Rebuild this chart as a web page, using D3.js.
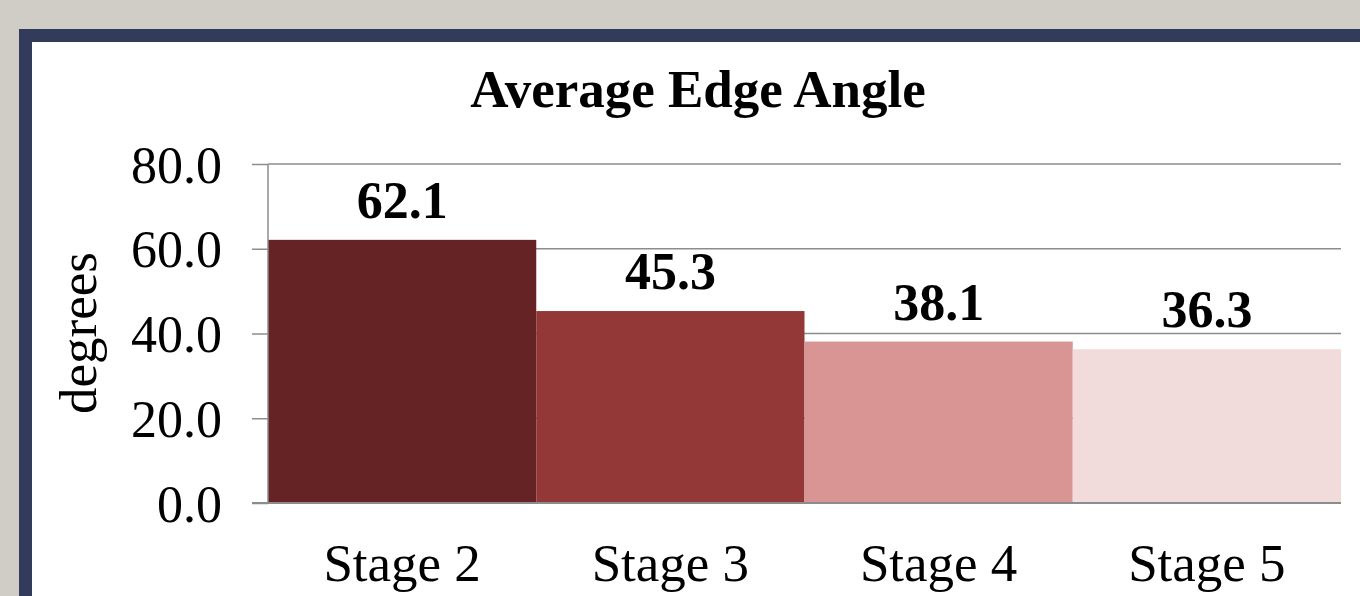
<!DOCTYPE html>
<html>
<head>
<meta charset="utf-8">
<script src="https://cdn.jsdelivr.net/npm/d3@7"></script>
<style>
  html, body { margin: 0; padding: 0; background: #d0cdc6; }
  svg { display: block; }
  text { font-family: "Liberation Serif", "Times New Roman", serif; fill: #000; }
</style>
</head>
<body>
<div class="chart"></div>
<script>
var stages = ["Stage 2", "Stage 3", "Stage 4", "Stage 5"],
    values = [62.1, 45.3, 38.1, 36.3],
    colors = ["#662326", "#943737", "#d99594", "#f2dbdb"],
    yTicks = [0, 20, 40, 60, 80];

var W = 1360, H = 596;
var margin = { top: 164, right: 19, bottom: 93, left: 268 },
    width = W - margin.left - margin.right,
    height = H - margin.top - margin.bottom;

var svg = d3.select(".chart").append("svg")
    .attr("width", W)
    .attr("height", H);

// navy frame, white panel
svg.append("rect")
    .attr("x", 25.5).attr("y", 35.5)
    .attr("width", W + 40).attr("height", H + 40)
    .attr("fill", "#fff")
    .attr("stroke", "#323c5a")
    .attr("stroke-width", 13);

svg.append("text")
    .attr("x", 698).attr("y", 107)
    .attr("text-anchor", "middle")
    .style("font-size", "53px")
    .style("font-weight", "bold")
    .text("Average Edge Angle");

var g = svg.append("g")
    .attr("transform", "translate(" + margin.left + "," + margin.top + ")");

var x = d3.scaleBand()
    .domain(stages)
    .range([0, width])
    .padding(0);

var y = d3.scaleLinear()
    .domain([0, 80])
    .range([height, 0]);

// gridlines
g.selectAll(".grid")
    .data(yTicks.slice(1))
    .enter().append("line")
    .attr("x1", 0).attr("x2", width)
    .attr("y1", function (d) { return y(d); })
    .attr("y2", function (d) { return y(d); })
    .attr("stroke", "#8c8c8c")
    .attr("stroke-width", 1.5);

// bars
g.selectAll(".bar")
    .data(values)
    .enter().append("rect")
    .attr("x", function (d, i) { return x(stages[i]); })
    .attr("width", x.bandwidth())
    .attr("y", function (d) { return y(d); })
    .attr("height", function (d) { return height - y(d); })
    .attr("fill", function (d, i) { return colors[i]; });

// value labels
g.selectAll(".val")
    .data(values)
    .enter().append("text")
    .attr("x", function (d, i) { return x(stages[i]) + x.bandwidth() / 2; })
    .attr("y", function (d) { return y(d) - 22; })
    .attr("text-anchor", "middle")
    .style("font-size", "52px")
    .style("font-weight", "bold")
    .text(function (d) { return d.toFixed(1); });

// y axis
var yAxis = g.append("g")
    .call(d3.axisLeft(y).tickValues(yTicks).tickSize(16).tickPadding(30)
        .tickFormat(function (d) { return d.toFixed(1); }));
yAxis.select(".domain").attr("stroke", "#8c8c8c").attr("stroke-width", 1.5)
    .attr("d", "M0," + height + "V0");
yAxis.selectAll(".tick line").attr("stroke", "#8c8c8c").attr("stroke-width", 1.5);
yAxis.selectAll(".tick text")
    .style("font-size", "52px")
    .attr("dy", "0.35em");

// x axis baseline
var xAxis = g.append("g")
    .attr("transform", "translate(0," + height + ")")
    .call(d3.axisBottom(x).tickSize(0).tickPadding(40));
xAxis.select(".domain").attr("stroke", "#8c8c8c").attr("stroke-width", 2)
    .attr("d", "M-16,0H" + width);
xAxis.selectAll(".tick text")
    .style("font-size", "53px")
    .attr("dy", "0.71em");

svg.append("text")
    .attr("transform", "translate(96,333) rotate(-90)")
    .attr("text-anchor", "middle")
    .style("font-size", "53px")
    .text("degrees");
</script>
</body>
</html>
